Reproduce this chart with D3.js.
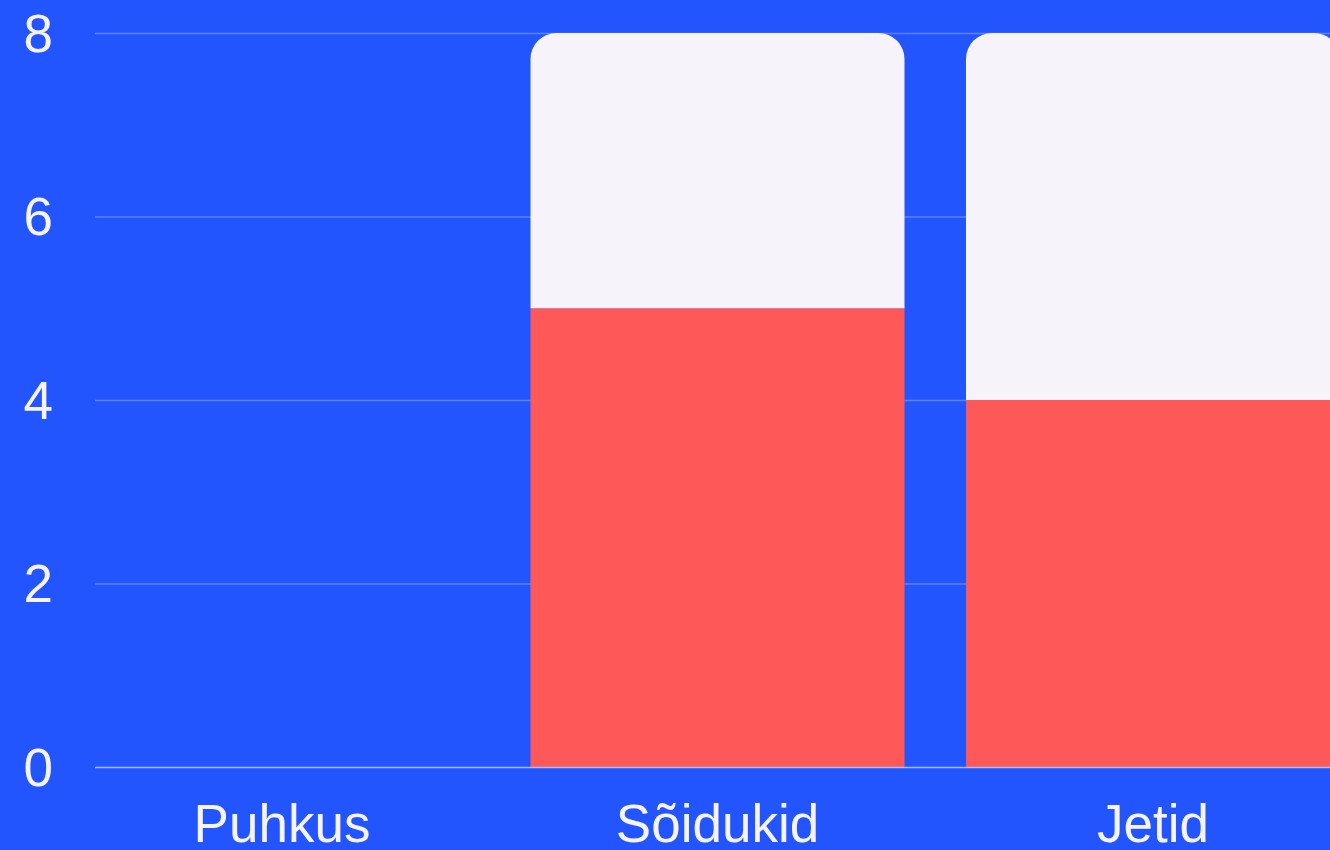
<!DOCTYPE html>
<html>
<head>
<meta charset="utf-8">
<script src="https://cdn.jsdelivr.net/npm/d3@7"></script>
<style>
  html, body { margin: 0; padding: 0; background: #2355ff; overflow: hidden; }
  svg { display: block; }
</style>
</head>
<body>
<svg width="1330" height="850"></svg>
<script>
const categories = ["Puhkus", "Sõidukid", "Jetid"];
const redValues = [0, 5, 4];
const whiteValues = [0, 3, 4];
const yTicks = [0, 2, 4, 6, 8];

const svg = d3.select("svg"),
    width = +svg.attr("width"),
    height = +svg.attr("height");

svg.append("rect")
    .attr("width", width)
    .attr("height", height)
    .attr("fill", "#2355ff");

const x = d3.scaleBand()
    .domain(categories)
    .range([95, 1340])
    .paddingInner(0.1412)
    .paddingOuter(0);

const y = d3.scaleLinear()
    .domain([0, 8])
    .range([767, 33]);

// grid lines
svg.append("g")
    .selectAll("line")
    .data(yTicks.filter(d => d !== 0))
    .enter().append("line")
    .attr("x1", 95)
    .attr("x2", width)
    .attr("y1", d => y(d) + 0.5)
    .attr("y2", d => y(d) + 0.5)
    .attr("stroke", "#5d83ff")
    .attr("stroke-width", 1.5);

// y tick labels
svg.append("g")
    .selectAll("text")
    .data(yTicks)
    .enter().append("text")
    .attr("x", 53)
    .attr("y", d => y(d))
    .attr("dy", "0.35em")
    .attr("text-anchor", "end")
    .attr("fill", "#f6f4fa")
    .style("font-family", "'Liberation Sans', Arial, sans-serif")
    .style("font-size", "53px")
    .text(d => d);

const data = categories.map((c, i) => ({cat: c, red: redValues[i], white: whiteValues[i]}));

// red bottom segments
svg.append("g")
    .selectAll("rect")
    .data(data.filter(d => d.red > 0))
    .enter().append("rect")
    .attr("x", d => x(d.cat))
    .attr("y", d => y(d.red))
    .attr("width", x.bandwidth())
    .attr("height", d => y(0) - y(d.red))
    .attr("fill", "#ff5858");

// white top segments with rounded top corners
const r = 26;
svg.append("g")
    .selectAll("path")
    .data(data.filter(d => d.white > 0))
    .enter().append("path")
    .attr("d", d => {
        const x0 = x(d.cat), x1 = x0 + x.bandwidth();
        const yt = y(d.red + d.white), yb = y(d.red);
        return `M${x0},${yb}V${yt + r}A${r},${r} 0 0 1 ${x0 + r},${yt}H${x1 - r}A${r},${r} 0 0 1 ${x1},${yt + r}V${yb}Z`;
    })
    .attr("fill", "#f6f4fa");

// baseline
svg.append("line")
    .attr("x1", 95)
    .attr("x2", width)
    .attr("y1", y(0) + 0.5)
    .attr("y2", y(0) + 0.5)
    .attr("stroke", "#a9bcff")
    .attr("stroke-width", 1.5);

// x labels
svg.append("g")
    .selectAll("text")
    .data(categories)
    .enter().append("text")
    .attr("x", d => x(d) + x.bandwidth() / 2)
    .attr("y", 842)
    .attr("text-anchor", "middle")
    .attr("fill", "#f6f4fa")
    .style("font-family", "'Liberation Sans', Arial, sans-serif")
    .style("font-size", "53px")
    .text(d => d);
</script>
</body>
</html>
